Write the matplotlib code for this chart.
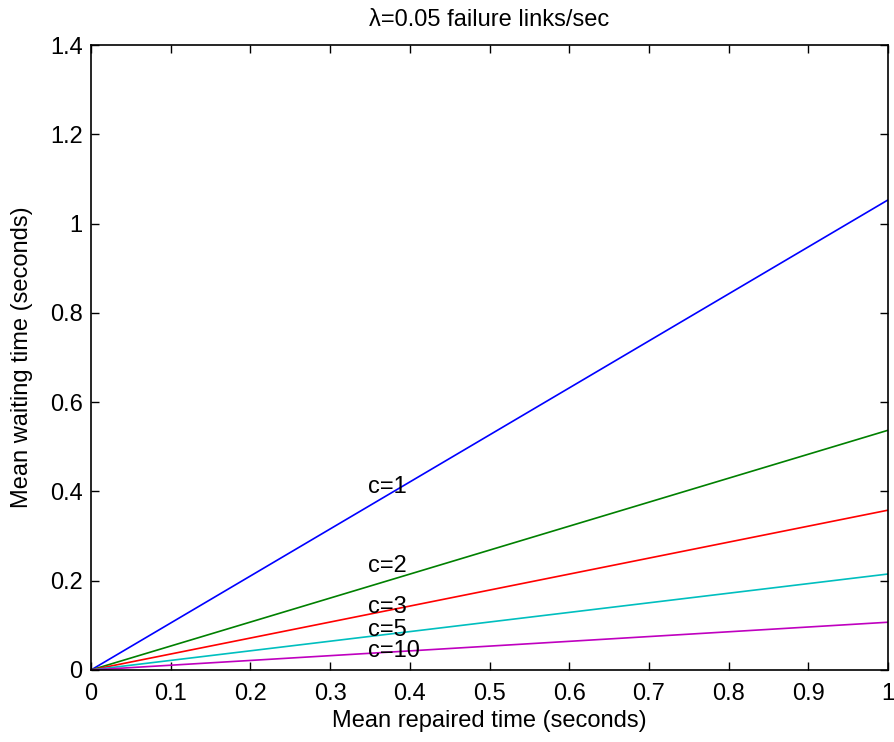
import matplotlib
matplotlib.use("Agg")
import matplotlib.pyplot as plt

plt.rcParams['font.family'] = ['Liberation Sans', 'DejaVu Sans']

x_vals = [0.0, 1.0]
series = {
    'c=1': [0.0, 1.053],
    'c=2': [0.0, 0.537],
    'c=3': [0.0, 0.358],
    'c=5': [0.0, 0.215],
    'c=10': [0.0, 0.107],
}
colors = ['#0000ff', '#008000', '#ff0000', '#00bfbf', '#bf00bf']
label_x = 0.347
label_y = [0.41, 0.232, 0.142, 0.09, 0.042]
xticks = [0, 0.1, 0.2, 0.3, 0.4, 0.5, 0.6, 0.7, 0.8, 0.9, 1]
xticklabels = ['0', '0.1', '0.2', '0.3', '0.4', '0.5', '0.6', '0.7', '0.8', '0.9', '1']
yticks = [0, 0.2, 0.4, 0.6, 0.8, 1.0, 1.2, 1.4]
yticklabels = ['0', '0.2', '0.4', '0.6', '0.8', '1', '1.2', '1.4']

FS = 17

fig = plt.figure(figsize=(8.94, 7.42), dpi=100)
ax = fig.add_axes([91/894, 1-670/742, 797/894, 625/742])

for (name, ys), col in zip(series.items(), colors):
    ax.plot(x_vals, ys, color=col, lw=1.2)

for (name, _), ly in zip(series.items(), label_y):
    ax.text(label_x, ly, name, fontsize=FS, ha='left', va='center')

ax.set_xlim(0, 1)
ax.set_ylim(0, 1.4)
ax.set_xticks(xticks)
ax.set_xticklabels(xticklabels)
ax.set_yticks(yticks)
ax.set_yticklabels(yticklabels)
ax.tick_params(direction='in', length=6, width=1, labelsize=FS, top=True, right=True,
               labeltop=False, labelright=False)
ax.tick_params(axis='x', pad=9)
ax.tick_params(axis='y', pad=6)
for s in ax.spines.values():
    s.set_linewidth(1.2)

ax.set_xlabel('Mean repaired time (seconds)', fontsize=FS, labelpad=4)
ax.set_ylabel('Mean waiting time (seconds)', fontsize=FS, labelpad=12)
ax.set_title('λ=0.05 failure links/sec', fontsize=FS, pad=14)

fig.savefig('out.png', dpi=100, facecolor='white')
